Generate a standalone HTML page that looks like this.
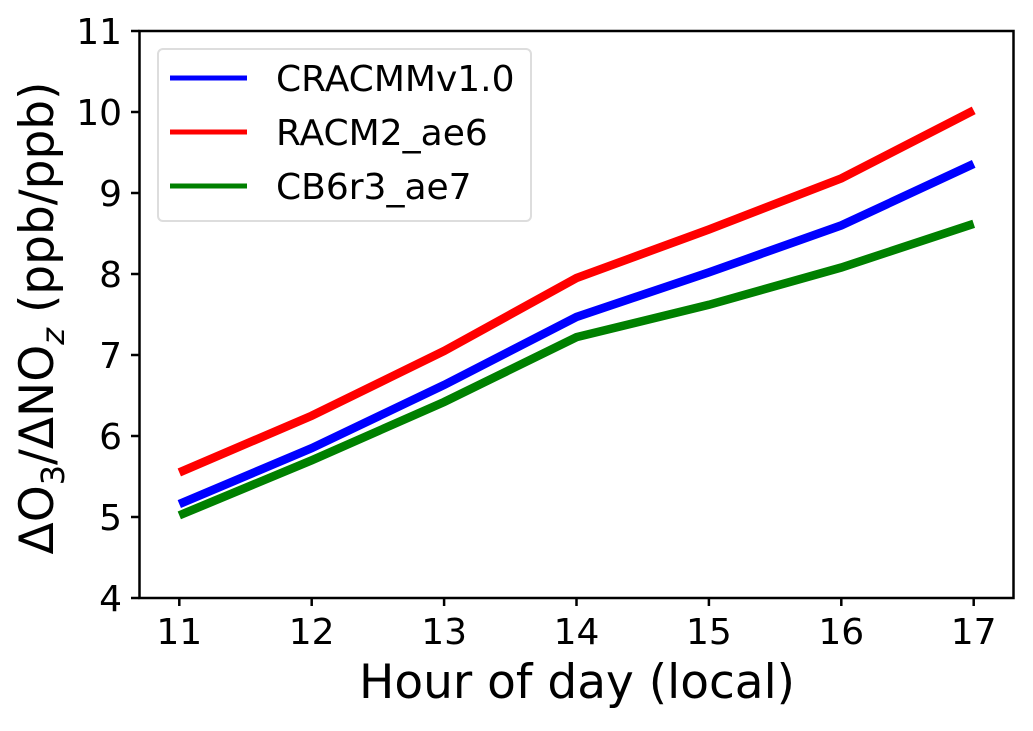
<!DOCTYPE html>
<html><head><meta charset="utf-8"><style>
body{margin:0;background:#fff}
svg text{font-family:"DejaVu Sans","Liberation Sans",sans-serif;fill:#000}
</style></head><body>
<svg width="1033" height="726" viewBox="0 0 1033 726">
<g id="ticks"></g>
<g id="lines"></g>
<rect x="139.5" y="31" width="874" height="567" fill="none" stroke="#000" stroke-width="2.5"/>
<g>
<rect x="158" y="49" width="373" height="172" rx="5" fill="#fff" fill-opacity="0.8" stroke="#ddd" stroke-width="2"/>
<line x1="170" y1="78" x2="247" y2="78" stroke="#0000ff" stroke-width="5"/>
<text x="276" y="91" font-size="36">CRACMMv1.0</text>
<line x1="170" y1="132" x2="247" y2="132" stroke="#ff0000" stroke-width="5"/>
<text x="276" y="145" font-size="36">RACM2_ae6</text>
<line x1="170" y1="186" x2="247" y2="186" stroke="#008000" stroke-width="5"/>
<text x="276" y="199" font-size="36">CB6r3_ae7</text>
</g>
<text x="577" y="698" font-size="47" text-anchor="middle">Hour of day (local)</text>
<text transform="translate(53,318) rotate(-90)" font-size="47" text-anchor="middle">ΔO<tspan font-size="32" dy="11">3</tspan><tspan dy="-11">/ΔNO</tspan><tspan font-size="32" dy="11" font-style="italic">z</tspan><tspan dy="-11"> (ppb/ppb)</tspan></text>
</svg>
<script>
const hours=[11,12,13,14,15,16,17];
const yTicks=[4,5,6,7,8,9,10,11];
const cracmm=[5.16,5.85,6.63,7.47,8.02,8.6,9.36];
const racm2=[5.55,6.25,7.05,7.95,8.55,9.18,10.02];
const cb6=[5.02,5.7,6.42,7.22,7.62,8.08,8.62];
const NS='http://www.w3.org/2000/svg';
const xs=h=>179.3+(h-11)*132.4;
const ys=v=>598-(v-4)*81;
const tg=document.getElementById('ticks'),lg=document.getElementById('lines');
function mk(tag,a,p){const e=document.createElementNS(NS,tag);for(const k in a)e.setAttribute(k,a[k]);p.appendChild(e);return e;}
hours.forEach(h=>{
 const l=mk('line',{x1:xs(h),x2:xs(h),y1:598,y2:606,stroke:'#000','stroke-width':2.5},tg);
 
 
 const t=mk('text',{x:xs(h),y:644,'font-size':36,'text-anchor':'middle'},tg);t.textContent=h;
 
 
});
yTicks.forEach(v=>{
 const l=mk('line',{x1:131,x2:139.5,y1:ys(v),y2:ys(v),stroke:'#000','stroke-width':2.5},tg);
 
 
 const t=mk('text',{x:122,y:ys(v)+13,'font-size':36,'text-anchor':'end'},tg);t.textContent=v;
 
 
});
[[racm2,'#ff0000','line-racm2'],[cracmm,'#0000ff','line-cracmm'],[cb6,'#008000','line-cb6']].forEach(([d,c,n])=>{
 const p=mk('polyline',{points:d.map((v,i)=>xs(hours[i])+','+ys(v)).join(' '),fill:'none',stroke:c,'stroke-width':8.5},lg);
 
 
});
</script>
</body></html>
